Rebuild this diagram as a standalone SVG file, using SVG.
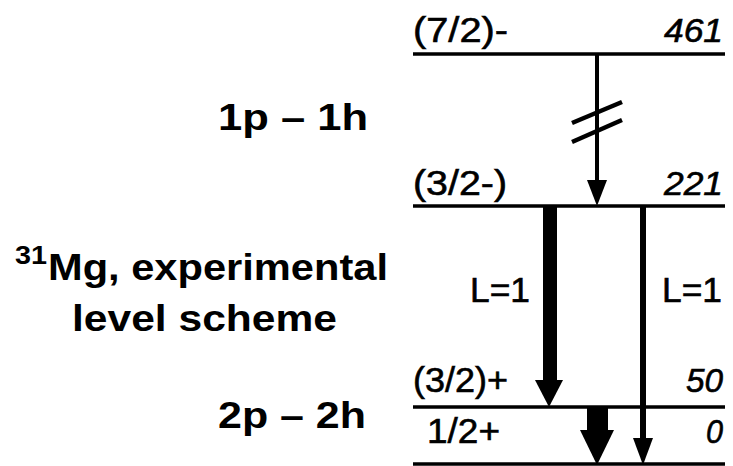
<svg xmlns="http://www.w3.org/2000/svg" width="733" height="466" viewBox="0 0 733 466">
<style>
.lvl{stroke:#000;stroke-width:3.5;fill:none}
.t{font-family:"Liberation Sans",Arial,sans-serif;font-size:35px;fill:#000;stroke:#000;stroke-width:0.6}
.it{font-style:italic;font-size:33px}
.big{font-family:"Liberation Sans",Arial,sans-serif;font-size:37px;font-weight:bold;fill:#000}
.sup{font-size:25px}
.sh{fill:#000}
.sl{stroke:#000;stroke-width:4.5}
</style>
<rect width="733" height="466" fill="#fff"/>
<g id="titles">
<text class="big" x="218" y="130" textLength="150" lengthAdjust="spacingAndGlyphs">1p – 1h</text>
<text class="big sup" x="15" y="264" textLength="32" lengthAdjust="spacingAndGlyphs">31</text>
<text class="big" x="48" y="280" textLength="340" lengthAdjust="spacingAndGlyphs">Mg, experimental</text>
<text class="big" x="72" y="331" textLength="265" lengthAdjust="spacingAndGlyphs">level scheme</text>
<text class="big" x="218" y="428" textLength="148" lengthAdjust="spacingAndGlyphs">2p – 2h</text>
</g>
<g id="level461">
<line class="lvl" x1="413" y1="54" x2="725" y2="54"/>
<text class="t" x="413" y="42" textLength="95" lengthAdjust="spacingAndGlyphs">(7/2)-</text>
<text class="t it" x="664" y="42" textLength="59" lengthAdjust="spacingAndGlyphs">461</text>
</g>
<g id="level221">
<line class="lvl" x1="413" y1="206" x2="725" y2="206"/>
<text class="t" x="413" y="195" textLength="94" lengthAdjust="spacingAndGlyphs">(3/2-)</text>
<text class="t it" x="664" y="195" textLength="59" lengthAdjust="spacingAndGlyphs">221</text>
</g>
<g id="level50">
<line class="lvl" x1="413" y1="407" x2="725" y2="407"/>
<text class="t" x="413" y="392" textLength="95" lengthAdjust="spacingAndGlyphs">(3/2)+</text>
<text class="t it" x="686" y="392" textLength="37" lengthAdjust="spacingAndGlyphs">50</text>
</g>
<g id="level0">
<line class="lvl" x1="413" y1="464" x2="725" y2="464"/>
<text class="t" x="427" y="443" textLength="73" lengthAdjust="spacingAndGlyphs">1/2+</text>
<text class="t it" x="706" y="443" textLength="17" lengthAdjust="spacingAndGlyphs">0</text>
</g>
<g id="connectors">
<rect class="sh" x="595" y="54" width="4" height="128"/>
<polygon class="sh" points="587,180 607,180 597,206"/>
<line class="sl" x1="572" y1="123" x2="622" y2="102"/>
<line class="sl" x1="572" y1="142" x2="622" y2="120"/>
<rect class="sh" x="543" y="206" width="14" height="176"/>
<polygon class="sh" points="535,380 563,380 549,407"/>
<rect class="sh" x="640" y="206" width="6" height="234"/>
<polygon class="sh" points="633,438 653,438 643,465"/>
<rect class="sh" x="587" y="407" width="21" height="25"/>
<polygon class="sh" points="580,430 614,430 597,465"/>
<text class="t" x="470" y="302" textLength="60" lengthAdjust="spacingAndGlyphs">L=1</text>
<text class="t" x="662" y="302" textLength="60" lengthAdjust="spacingAndGlyphs">L=1</text>
</g>
</svg>
